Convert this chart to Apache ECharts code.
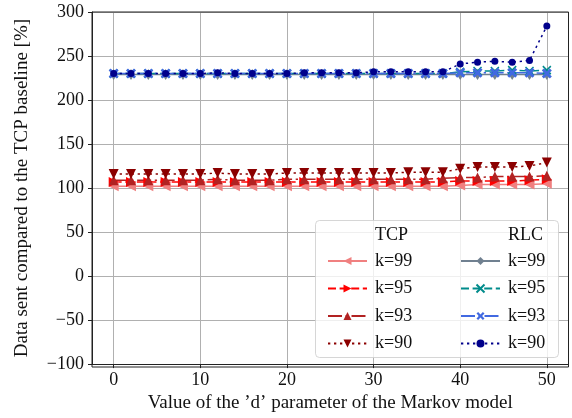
<!DOCTYPE html>
<html>
<head>
<meta charset="utf-8">
<script src="https://cdn.jsdelivr.net/npm/echarts@6/dist/echarts.min.js"></script>
<style>
  html, body { margin: 0; padding: 0; background: #fff; }
  #chart { width: 572px; height: 418px; }
</style>
</head>
<body>
<div id="chart"></div>
<script>
// Markov model 'd' parameter values
const dValues = [0, 2, 4, 6, 8, 10, 12, 14, 16, 18, 20, 22, 24, 26, 28, 30, 32, 34, 36, 38, 40, 42, 44, 46, 48, 50];

// Data sent relative to the TCP baseline [%]
const tcpK99 = [102, 102, 102, 102, 102, 102, 102, 102, 102, 102, 102, 102, 102, 102, 102, 102, 102, 102, 102, 102, 103, 104, 104, 104, 104, 105];
const tcpK95 = [107, 107, 107, 107, 107, 107, 107, 107, 107, 107, 107, 107, 107, 107, 107, 107, 107, 107, 107, 107, 108, 108, 108, 108, 109, 110];
const tcpK93 = [109, 109, 109, 109, 109, 109, 110, 109, 109, 109, 110, 110, 110, 110, 110, 110, 110, 110, 110, 111, 112, 112, 113, 113, 113, 114];
const tcpK90 = [116, 116, 116, 116, 116, 116, 117, 116, 116, 116, 117, 117, 117, 117, 117, 117, 117, 118, 118, 118, 122, 124, 124, 124, 125, 129];

const rlcK99 = [229, 229, 229, 229, 229, 229, 229, 229, 229, 229, 229, 229, 229, 229, 229, 229, 229, 229, 229, 229, 229, 229, 229, 229, 229, 229];
const rlcK95 = [230, 230, 230, 230, 230, 230, 230, 230, 230, 230, 230, 230, 230, 230, 230, 230, 230, 230, 230, 230, 232, 233, 233, 234, 233, 234];
const rlcK93 = [230, 230, 230, 230, 230, 230, 230, 230, 230, 230, 230, 230, 230, 230, 230, 230, 230, 230, 230, 230, 231, 231, 231, 231, 231, 230];
const rlcK90 = [230, 230, 230, 230, 230, 230, 231, 230, 230, 230, 230, 231, 231, 231, 231, 232, 232, 232, 232, 232, 241, 243, 244, 243, 245, 284];

const xTicks = [0, 10, 20, 30, 40, 50];
const FONT = 'Liberation Serif';
const TICK_SIZE = 18;
const TITLE_SIZE = 19;

const pairs = arr => dValues.map((d, i) => [d, arr[i]]);

const LW = 1.5;
const DASHED = [8, 3.6];
const DASHDOT = [14, 3.6, 2.3, 3.6];
const DOTTED = [2.3, 3.7];

const X_FILLED = 'path://M2,0L5,3L8,0L10,2L7,5L10,8L8,10L5,7L2,10L0,8L3,5L0,2Z';
const X_THIN = 'path://M0,0L10,10M0,10L10,0';

function lineSeries(name, values, color, dash, symbol, size, rotate, extraItem) {
  return {
    name: name,
    type: 'line',
    data: pairs(values),
    showAllSymbol: true,
    symbol: symbol,
    symbolSize: size,
    symbolRotate: rotate || 0,
    lineStyle: { color: color, width: LW, type: dash },
    itemStyle: Object.assign({ color: color, opacity: 1 }, extraItem || {}),
    emphasis: { disabled: true },
    animation: false
  };
}

const series = [
  lineSeries('TCP k=99', tcpK99, '#F08080', 'solid', 'triangle', 10, 90),
  lineSeries('TCP k=95', tcpK95, '#FF0000', DASHED, 'triangle', 10, -90),
  lineSeries('TCP k=93', tcpK93, '#B22222', DASHDOT, 'triangle', 10, 0),
  lineSeries('TCP k=90', tcpK90, '#8B0000', DOTTED, 'triangle', 10, 180),
  lineSeries('RLC k=99', rlcK99, '#708090', 'solid', 'diamond', [7, 11], 0),
  lineSeries('RLC k=95', rlcK95, '#008B8B', DASHED, X_THIN, 8, 0, { borderColor: '#008B8B', borderWidth: 1.5 }),
  lineSeries('RLC k=93', rlcK93, '#4169E1', DASHDOT, X_FILLED, 10, 0),
  lineSeries('RLC k=90', rlcK90, '#00008B', DOTTED, 'circle', 7, 0)
];

const legendBase = {
  orient: 'vertical',
  top: 247,
  itemWidth: 39,
  itemHeight: 10,
  itemGap: 9.5,
  selectedMode: false,
  formatter: name => name.replace(/^(TCP|RLC) /, ''),
  textStyle: { fontFamily: FONT, fontSize: TICK_SIZE, color: '#111', padding: [0, 0, 0, 3] },
  z: 10
};

const chart = echarts.init(document.getElementById('chart'), null, { renderer: 'canvas' });
chart.setOption({
  backgroundColor: '#fff',
  animation: false,
  grid: { left: 92, right: 3.5, top: 12, bottom: 51, containLabel: false },
  xAxis: {
    type: 'value',
    min: -2.5,
    max: 52.5,
    name: 'Value of the \u2019d\u2019 parameter of the Markov model',
    nameLocation: 'middle',
    nameGap: 29,
    nameTextStyle: { fontFamily: FONT, fontSize: TITLE_SIZE, color: '#111' },
    axisLine: { onZero: false, lineStyle: { color: '#222', width: 1 } },
    axisTick: { show: true, inside: false, length: 4, customValues: xTicks, lineStyle: { color: '#222' } },
    axisLabel: { customValues: xTicks, margin: 7, fontFamily: FONT, fontSize: TICK_SIZE, color: '#111' },
    splitLine: { show: true, lineStyle: { color: '#b0b0b0', width: 1 } }
  },
  yAxis: {
    type: 'value',
    min: -100,
    max: 300,
    interval: 50,
    name: 'Data sent compared to the TCP baseline [%]',
    nameLocation: 'middle',
    nameGap: 60,
    nameTextStyle: { fontFamily: FONT, fontSize: TITLE_SIZE, color: '#111' },
    axisLine: { show: true, onZero: false, lineStyle: { color: '#222', width: 1 } },
    axisTick: { show: true, inside: false, length: 4, lineStyle: { color: '#222' } },
    axisLabel: {
      margin: 8,
      fontFamily: FONT,
      fontSize: TICK_SIZE,
      color: '#111',
      formatter: v => String(v).replace('-', '\u2212')
    },
    splitLine: { show: true, lineStyle: { color: '#b0b0b0', width: 1 } }
  },
  legend: [
    Object.assign({}, legendBase, { left: 322, data: series.slice(0, 4).map(s => s.name) }),
    Object.assign({}, legendBase, { left: 455, data: series.slice(4).map(s => s.name) })
  ],
  graphic: [
    // closed frame on the top and right of the plot
    { type: 'rect', z: 5, silent: true,
      shape: { x: 92, y: 12, width: 476.5, height: 355 },
      style: { fill: 'none', stroke: '#222', lineWidth: 1 } },
    // legend box
    { type: 'rect', z: 6, silent: true,
      shape: { x: 315.5, y: 220.5, width: 243, height: 137, r: 4 },
      style: { fill: 'rgba(255,255,255,0.8)', stroke: 'rgba(204,204,204,0.8)', lineWidth: 1 } },
    { type: 'text', z: 11, silent: true, left: 375, top: 226,
      style: { text: 'TCP', fontFamily: FONT, fontSize: TICK_SIZE, fill: '#111' } },
    { type: 'text', z: 11, silent: true, left: 508, top: 226,
      style: { text: 'RLC', fontFamily: FONT, fontSize: TICK_SIZE, fill: '#111' } }
  ],
  series: series
});
</script>
</body>
</html>
